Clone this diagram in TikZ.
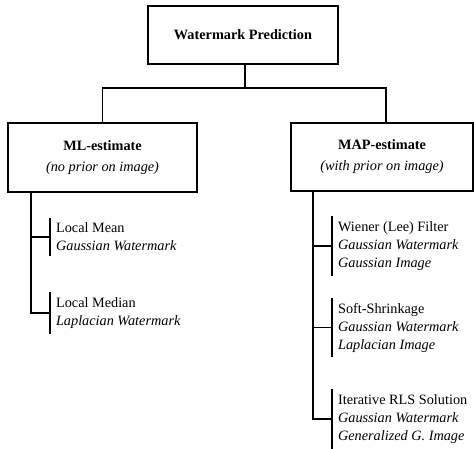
\documentclass[tikz,border=0pt]{standalone}
\usepackage{fontspec}
\setmainfont{Liberation Serif}
\begin{document}
\begin{tikzpicture}[x=0.75pt,y=-0.75pt,
  line width=1.3pt,
  box/.style={draw, line width=1.3pt, align=center, inner sep=0pt,
    font=\fontsize{10.7}{13.5}\selectfont},
  leaf/.style={anchor=west, align=left, inner xsep=3.9pt, inner ysep=3.3pt,
    font=\fontsize{10.7}{13.5}\selectfont},
  conn/.style={line width=1.3pt}]
\useasboundingbox (0,0) rectangle (474,449);

\node[box, minimum width=142.5pt, minimum height=43.5pt] (top) at (243,35)
  {\textbf{Watermark Prediction}};
\node[box, minimum width=141.75pt, minimum height=51.75pt] (ml) at (102.5,157.5)
  {\textbf{ML-estimate}\\[2.2pt]\textit{(no prior on image)}};
\node[box, minimum width=136.5pt, minimum height=51pt] (map) at (382,157)
  {\textbf{MAP-estimate}\\[2.2pt]\textit{(with prior on image)}};

\coordinate (j) at (245,88);
\draw[conn] ([xshift=1.5pt]top.south) -- ([xshift=1.5pt]top.south |- j);
\draw[conn] (ml.north) |- ([xshift=1.5pt]top.south |- j) -| ([xshift=3pt]map.north);

% left leaves
\node[leaf] (lmean) at (50,237) {Local Mean\\\textit{Gaussian Watermark}};
\node[leaf] (lmed) at (50,313) {Local Median\\\textit{Laplacian Watermark}};
% right leaves
\node[leaf] (wien) at (332,246) {Wiener (Lee) Filter\\\textit{Gaussian Watermark}\\\textit{Gaussian Image}};
\node[leaf] (soft) at (332,327.5) {Soft-Shrinkage\\\textit{Gaussian Watermark}\\\textit{Laplacian Image}};
\node[leaf] (iter) at (332,419) {Iterative RLS Solution\\\textit{Gaussian Watermark}\\\textit{Generalized G. Image}};

\foreach \n in {lmean,lmed,wien,soft,iter}
  \draw[conn] (\n.north west) -- (\n.south west);

\coordinate (ls) at ([xshift=18pt]ml.south west);
\coordinate (rs) at ([xshift=17.25pt]map.south west);
\draw[conn] (ls) |- (lmed.west);
\draw[conn] (ls |- lmean.west) -- (lmean.west);
\draw[conn] (rs) |- (iter.west);
\draw[conn] (rs |- wien.west) -- (wien.west);
\draw[conn] (rs |- soft.west) -- (soft.west);
\end{tikzpicture}
\end{document}
